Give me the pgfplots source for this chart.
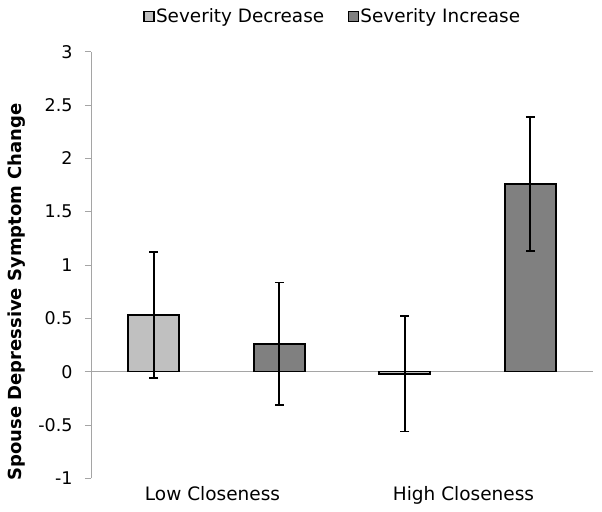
\documentclass[border=0pt]{standalone}
\usepackage{pgfplots}
\pgfplotsset{compat=1.18}
\usepackage{fontspec}
\setmainfont{DejaVu Sans}
\definecolor{lightbar}{RGB}{192,192,192}
\definecolor{darkbar}{RGB}{128,128,128}
\definecolor{axisgray}{RGB}{165,165,165}
\begin{document}
\begin{tikzpicture}
\path[use as bounding box] (-91bp,-33bp) rectangle (511bp,478.3bp);
\begin{axis}[
  scale only axis, width=502bp, height=426.5bp,
  xmin=0, xmax=2, ymin=-1, ymax=3,
  axis y line*=left, axis x line*=bottom,
  x axis line style={draw=none},
  y axis line style={draw=axisgray, line width=0.8bp},
  xtick={0.5,1.5}, xticklabels={Low Closeness, High Closeness},
  xtick style={draw=none},
  ytick={-1,-0.5,0,0.5,1,1.5,2,2.5,3},
  yticklabels={-1,-0.5,0,0.5,1,1.5,2,2.5,3},
  ytick style={draw=axisgray, line width=0.8bp},
  tick align=outside, major tick length=6bp,
  extra y ticks={0}, extra y tick labels={},
  extra y tick style={grid=major, major grid style={draw=axisgray, line width=0.8bp}},
  yticklabel style={font=\fontsize{17.5bp}{20bp}\selectfont, xshift=-9bp},
  xticklabel style={font=\fontsize{18.5bp}{21bp}\selectfont, yshift=1bp, xshift=-4bp},
  ylabel={Spouse Depressive Symptom Change},
  ylabel style={font=\bfseries\fontsize{18bp}{21bp}\selectfont, at={([xshift=-74bp]axis description cs:0,0.437)}, anchor=center},
  ybar, bar width=0.203, bar shift=0pt,
  legend style={draw=none, legend columns=2, at={(0.481,1)}, anchor=center, yshift=35.5bp,
    font=\fontsize{18.4bp}{21bp}\selectfont, nodes={inner sep=1.5bp},
    /tikz/every even column/.append style={column sep=22bp}},
  legend cell align=left,
]
\addplot[fill=lightbar, draw=black, line width=1.6bp,
  legend image code/.code={\draw[fill=lightbar, draw=black, line width=1.2bp] (0bp,-5bp) rectangle (10bp,5bp);},
  error bars/.cd, y dir=both, y explicit,
  error bar style={black, line width=1.6bp},
  error mark options={black, line width=1.6bp, mark size=4.5bp, rotate=90}]
  coordinates {(0.25,0.53) +- (0,0.59) (1.25,-0.02) +- (0,0.54)};
\addlegendentry{Severity Decrease}
\addplot[fill=darkbar, draw=black, line width=1.6bp,
  legend image code/.code={\draw[fill=darkbar, draw=black, line width=1.2bp] (0bp,-5bp) rectangle (10bp,5bp);},
  error bars/.cd, y dir=both, y explicit,
  error bar style={black, line width=1.6bp},
  error mark options={black, line width=1.6bp, mark size=4.5bp, rotate=90}]
  coordinates {(0.75,0.26) +- (0,0.575) (1.75,1.76) +- (0,0.63)};
\addlegendentry{Severity Increase}
\end{axis}
\end{tikzpicture}
\end{document}
